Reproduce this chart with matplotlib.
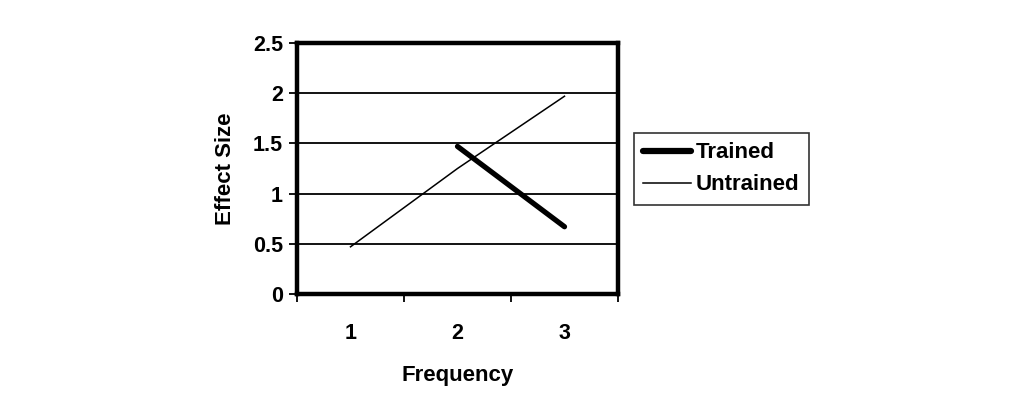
import matplotlib
matplotlib.use("Agg")
import matplotlib.pyplot as plt
import numpy as np

categories = ["1", "2", "3"]
trained = [np.nan, 1.47, 0.67]
untrained = [0.47, 1.25, 1.97]
yticks = [0, 0.5, 1, 1.5, 2, 2.5]
ytick_labels = ["0", "0.5", "1", "1.5", "2", "2.5"]

plt.rcParams['font.family'] = ['Liberation Sans', 'DejaVu Sans']
plt.rcParams['font.weight'] = 'bold'

fig = plt.figure(figsize=(10.24, 3.98), dpi=100)
ax = fig.add_axes([297/1024, 1 - 294/398, 321/1024, 251/398])

x = np.arange(1, len(categories) + 1)
ax.plot(x, trained, color='black', lw=3.8, solid_capstyle='round', label='Trained', zorder=3)
ax.plot(x, untrained, color='black', lw=1.1, label='Untrained', zorder=3)

ax.set_xlim(0.5, len(categories) + 0.5)
ax.set_ylim(0, 2.5)
ax.set_yticks(yticks)
ax.set_yticklabels(ytick_labels, fontsize=15.5, fontweight='bold')
for g in yticks[1:-1]:
    ax.axhline(g, color='black', lw=1.3, zorder=1)

ax.set_xticks(np.arange(0.5, len(categories) + 1, 1.0))
ax.set_xticklabels([])
ax.set_xticks(x, minor=True)
ax.set_xticklabels(categories, minor=True, fontsize=15.5, fontweight='bold')
ax.tick_params(axis='x', which='minor', length=0, pad=21)
ax.tick_params(axis='x', which='major', length=6, width=1.3, direction='out')
ax.tick_params(axis='y', length=6, width=1.3, direction='out', pad=4)

for s in ax.spines.values():
    s.set_linewidth(3.2)
    s.set_color('black')

ax.set_xlabel('Frequency', fontsize=16, fontweight='bold', labelpad=15)
ax.set_ylabel('Effect Size', fontsize=16, fontweight='bold', labelpad=12)

leg = ax.legend(loc='upper left', bbox_to_anchor=(634/1024, 1 - 133/398), bbox_transform=fig.transFigure,
                frameon=True, fancybox=False, edgecolor='black', fontsize=16,
                handlelength=2.15, handletextpad=0.2, borderpad=0.42, labelspacing=0.5,
                borderaxespad=0)
leg.get_frame().set_linewidth(1.2)
leg.get_lines()[0].set_linewidth(4.5)
for t in leg.get_texts():
    t.set_fontweight('bold')

fig.savefig('out.png', dpi=100)
